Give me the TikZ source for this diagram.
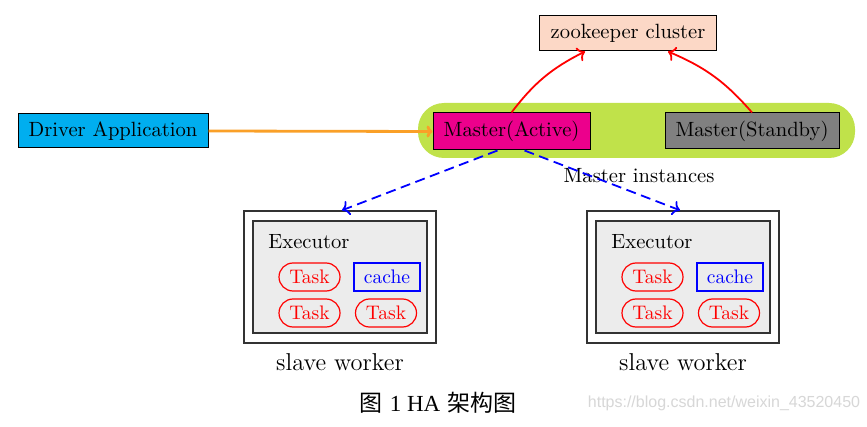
\documentclass[tikz,border=0pt]{standalone}
\usepackage{fontspec}
\newfontfamily\cjk{Noto Sans CJK SC}
\newfontfamily\capserif{Liberation Serif}
\newfontfamily\wmfont{Liberation Sans}
\usetikzlibrary{arrows.meta,calc}
\definecolor{zkfill}{RGB}{252,216,198}
\definecolor{drvfill}{RGB}{0,174,239}
\definecolor{actfill}{RGB}{236,0,140}
\definecolor{sbyfill}{RGB}{128,128,128}
\definecolor{grpfill}{RGB}{192,226,74}
\definecolor{orgline}{RGB}{250,160,40}
\definecolor{wmgray}{RGB}{215,215,215}
\begin{document}
\begin{tikzpicture}[x=0.5pt,y=-0.5pt,
  txt/.style={inner sep=0pt, font=\fontsize{10.3}{12}\selectfont},
  box/.style={txt, draw=black, line width=0.5pt},
  outerbox/.style={draw=black!80, line width=0.7pt, minimum width=96pt, minimum height=66pt, inner sep=0pt},
  innerbox/.style={draw=black!80, line width=0.7pt, fill=gray!15, minimum width=87pt, minimum height=56pt, inner sep=0pt},
  taskbox/.style={txt, draw=red, text=red, line width=0.6pt, rounded corners=7pt, minimum width=30.5pt, minimum height=14pt, font=\fontsize{9.8}{12}\selectfont},
  cachebox/.style={txt, draw=blue, text=blue, line width=0.6pt, minimum width=33pt, minimum height=14pt, font=\fontsize{9.8}{12}\selectfont},
  zkarrow/.style={draw=red, line width=0.9pt, ->},
  wkarrow/.style={draw=blue, line width=0.9pt, dash pattern=on 5pt off 2.8pt, ->},
  drvarrow/.style={draw=orgline, line width=1.4pt, -{To[length=3pt,width=6pt]}}
]
\useasboundingbox (0,0) rectangle (867,427);
\fill[white] (0,0) rectangle (867,427);

% group background
\node[fill=grpfill, rounded corners=13pt, minimum width=218.5pt, minimum height=27.5pt, inner sep=0pt] (grp) at (636.5,130.5) {};

\node[box, fill=zkfill, minimum width=88.5pt, minimum height=17.5pt] (zk) at (628,33.5) {zookeeper cluster};
\node[box, fill=drvfill, minimum width=95pt, minimum height=17pt] (drv) at (113,131) {Driver Application};
\node[box, fill=actfill, minimum width=78.5pt, minimum height=18.5pt] (act) at (511.5,131.5) {Master(Active)};
\node[box, fill=sbyfill, minimum width=87pt, minimum height=18pt] (sby) at (752,131) {Master(Standby)};
\node[txt] (mi) at (639,176) {Master instances};

\foreach \dx/\n in {0/L,343/R} {
  \node[outerbox] (outer\n) at (340+\dx,277) {};
  \node[innerbox] (inner\n) at (340+\dx,277) {};
  \node[txt, anchor=base west] (exec\n) at (268+\dx,249) {Executor};
  \node[taskbox] (taskA\n) at (309.5+\dx,277) {Task};
  \node[cachebox] (cache\n) at (387+\dx,277) {cache};
  \node[taskbox] (taskB\n) at (309.5+\dx,313) {Task};
  \node[taskbox] (taskC\n) at (386+\dx,313) {Task};
  \node[inner sep=0pt, font=\fontsize{12.2}{14}\selectfont] (slave\n) at (340+\dx,362) {slave worker};
}

\draw[drvarrow] (drv.east) -- (act.west);
\draw[zkarrow] (act.north) to[bend left=13] ($(zk.south)+(-43,0)$);
\draw[zkarrow] (sby.north) to[bend right=13] ($(zk.south)+(40,0)$);
\draw[wkarrow] ($(act.south)+(-14,0)$) -- ($(outerL.north)+(2,0)$);
\draw[wkarrow] ($(act.south)+(13,0)$) -- ($(outerR.north)+(-3,0)$);

\node[inner sep=0pt] (cap) at (438,403) {\fontsize{11.5}{14}\selectfont{\cjk 图} {\capserif 1 HA} {\cjk 架构图}};
\node[inner sep=0pt, text=wmgray, font=\wmfont\fontsize{8}{10}\selectfont] (wm) at (724,403) {https://blog.csdn.net/weixin\_43520450};
\end{tikzpicture}
\end{document}
